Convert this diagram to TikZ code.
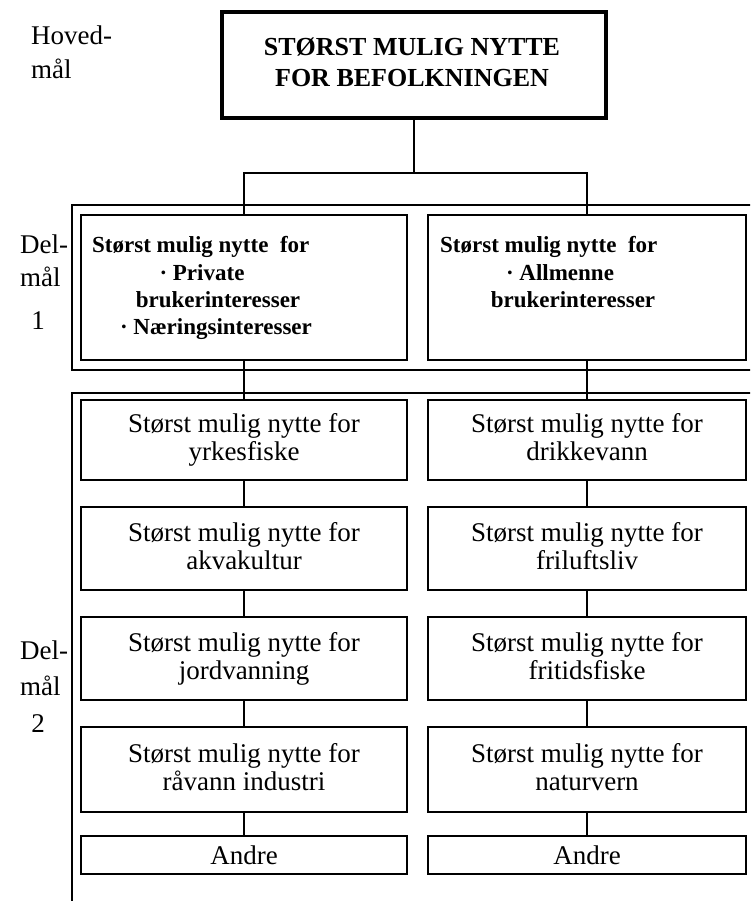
\documentclass[tikz,border=0pt]{standalone}
\usepackage{fontspec}
\setmainfont{Liberation Serif}
\begin{document}
\begin{tikzpicture}[x=1pt,y=-1pt,
  rowbox/.style={draw, line width=2pt, fill=white, inner sep=0pt, align=center,
    font=\fontsize{27}{28}\selectfont},
  lbox/.style={rowbox, minimum width=326pt},
  rbox/.style={rowbox, minimum width=318pt},
  dbox/.style={draw, line width=2pt, fill=white, inner sep=0pt, minimum height=145pt},
  topbox/.style={draw, line width=4pt, fill=white, inner sep=0pt, minimum width=384pt, minimum height=106pt},
  conn/.style={line width=2.2pt},
  frame/.style={line width=1.8pt},
  lbl/.style={anchor=base west, inner sep=0pt, font=\fontsize{27}{27}\selectfont},
  num/.style={anchor=base, inner sep=0pt, font=\fontsize{27}{27}\selectfont},
  dtxt/.style={anchor=base, inner sep=0pt, font=\bfseries\fontsize{23}{27}\selectfont},
  dtxtw/.style={dtxt, anchor=base west},
  ttxt/.style={anchor=base, inner sep=0pt, font=\bfseries\fontsize{26}{26}\selectfont}
]
\clip (0,0) rectangle (750,901);
\fill[white] (0,0) rectangle (750,901);

% frames
\draw[frame] (760,205) -- (72,205) -- (72,370) -- (760,370);
\draw[frame] (760,393) -- (72,393) -- (72,910);

% boxes
\node[topbox] (top) at (414,65) {};
\coordinate (bar) at (414,173);

\node[dbox, minimum width=326pt] (d1l) at (244,287.5) {};
\node[dbox, minimum width=318pt] (d1r) at (587,287.5) {};

\node[lbox, minimum height=80pt] (l1) at (244,440) {Størst mulig nytte for\\yrkesfiske\vphantom{y}};
\node[lbox, minimum height=83pt] (l2) at (244,548.5) {Størst mulig nytte for\\akvakultur\vphantom{y}};
\node[lbox, minimum height=83pt] (l3) at (244,658.5) {Størst mulig nytte for\\jordvanning\vphantom{y}};
\node[lbox, minimum height=85pt] (l4) at (244,769.5) {Størst mulig nytte for\\råvann industri\vphantom{y}};
\node[lbox, minimum height=38pt] (l5) at (244,855) {Andre};

\node[rbox, minimum height=80pt] (r1) at (587,440) {Størst mulig nytte for\\drikkevann\vphantom{y}};
\node[rbox, minimum height=83pt] (r2) at (587,548.5) {Størst mulig nytte for\\friluftsliv\vphantom{y}};
\node[rbox, minimum height=83pt] (r3) at (587,658.5) {Størst mulig nytte for\\fritidsfiske\vphantom{y}};
\node[rbox, minimum height=85pt] (r4) at (587,769.5) {Størst mulig nytte for\\naturvern\vphantom{y}};
\node[rbox, minimum height=38pt] (r5) at (587,855) {Andre};

% connectors
\draw[conn] (top.south) -- (bar);
\draw[conn] (d1l.north) |- (bar) -| (d1r.north);
\draw[conn] (d1l.south) -- (l1.north);
\draw[conn] (d1r.south) -- (r1.north);
\draw[conn] (l1.south) -- (l2.north) (l2.south) -- (l3.north) (l3.south) -- (l4.north) (l4.south) -- (l5.north);
\draw[conn] (r1.south) -- (r2.north) (r2.south) -- (r3.north) (r3.south) -- (r4.north) (r4.south) -- (r5.north);

% texts
\node[ttxt] (tt1) at (412,55.5) {STØRST MULIG NYTTE};
\node[ttxt] (tt2) at (412,86.5) {FOR BEFOLKNINGEN};

\node[dtxtw] (a1) at (92,252.5) {Størst mulig nytte\ \ for};
\node[dtxt] (a2) at (202,280) {· Private};
\node[dtxt] (a3) at (218,307.5) {brukerinteresser};
\node[dtxt] (a4) at (216,334.5) {· Næringsinteresser};
\node[dtxtw] (b1) at (440,252.5) {Størst mulig nytte\ \ for};
\node[dtxt] (b2) at (560,280) {· Allmenne};
\node[dtxt] (b3) at (573,307.5) {brukerinteresser};

% labels
\node[lbl] (h1) at (31,45) {Hoved-};
\node[lbl] (h2) at (31,79) {mål};
\node[lbl] (p1) at (20,253) {Del-};
\node[lbl] (p2) at (20,286) {mål};
\node[num] (p3) at (38,329) {1};
\node[lbl] (q1) at (20,659) {Del-};
\node[lbl] (q2) at (20,695) {mål};
\node[num] (q3) at (38,732) {2};
\end{tikzpicture}
\end{document}
